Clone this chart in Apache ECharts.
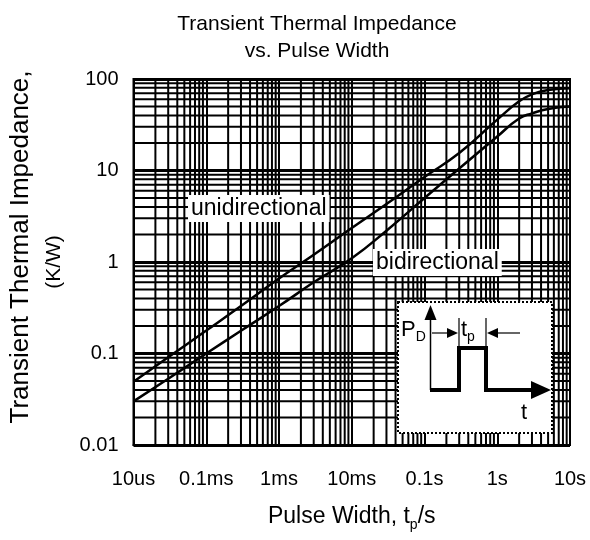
<!DOCTYPE html>
<html>
<head>
<meta charset="utf-8">
<script src="https://cdn.jsdelivr.net/npm/echarts@6/dist/echarts.min.js"></script>
<style>
  html, body { margin: 0; padding: 0; background: #fff; }
  #chart { width: 590px; height: 540px; }
</style>
</head>
<body>
<div id="chart"></div>
<script>
// pulse width in seconds, impedance in K/W
var pulseWidth = [1e-5, 3e-5, 1e-4, 3e-4, 1e-3, 3e-3, 1e-2, 3e-2, 0.1, 0.3, 1, 2, 3, 5, 10];
var zthUni = [0.049, 0.091, 0.178, 0.33, 0.66, 1.2, 2.35, 4.3, 8.5, 15.5, 36, 57, 68, 76, 79];
var zthBi = [0.030, 0.053, 0.10, 0.177, 0.33, 0.60, 1.1, 2.2, 5.0, 10.5, 23.5, 37, 42, 47, 50];

var xTickValues = [1e-5, 1e-4, 1e-3, 1e-2, 0.1, 1, 10];
var xTickLabels = ['10us', '0.1ms', '1ms', '10ms', '0.1s', '1s', '10s'];
var yTickValues = [0.01, 0.1, 1, 10, 100];
var yTickLabels = ['0.01', '0.1', '1', '10', '100'];
var minorSteps = [2, 3, 4, 5, 6, 7, 8, 9];

var FONT = '"Liberation Sans", Arial, sans-serif';

function pairs(xs, ys) {
  return xs.map(function(x, i) { return [x, ys[i]]; });
}

// 每个十进制区间内的细网格线
function minorLines(decades) {
  var out = [];
  decades.slice(0, -1).forEach(function(d) {
    minorSteps.forEach(function(s) { out.push(d * s); });
  });
  return out;
}

function tickLabel(values, labels) {
  return function(v) {
    var lv = Math.log10(v);
    for (var i = 0; i < values.length; i++) {
      if (Math.abs(Math.log10(values[i]) - lv) < 0.01) return labels[i];
    }
    return '';
  };
}

// 竖线: [x, 最小y]；横线: [最小x, y]
var vGrid = minorLines(xTickValues).map(function(v) { return [v, yTickValues[0]]; });
var hGrid = minorLines(yTickValues).map(function(v) { return [xTickValues[0], v]; });

function gridRender(vertical) {
  return function(params, api) {
    var p = api.coord([api.value(0), api.value(1)]);
    var cs = params.coordSys;
    var shape = vertical
      ? { x1: p[0], y1: cs.y, x2: p[0], y2: cs.y + cs.height }
      : { x1: cs.x, y1: p[1], x2: cs.x + cs.width, y2: p[1] };
    return { type: 'line', shape: shape, style: { stroke: '#000', lineWidth: 2 } };
  };
}

var chart = echarts.init(document.getElementById('chart'), null, { renderer: 'canvas' });

chart.setOption({
  animation: false,
  backgroundColor: '#fff',
  textStyle: { fontFamily: FONT, color: '#000' },
  title: {
    text: 'Transient Thermal Impedance\nvs. Pulse Width',
    left: 312,
    top: 6,
    textAlign: 'center',
    textStyle: { fontFamily: FONT, fontSize: 21, fontWeight: 'normal', lineHeight: 27, color: '#000' }
  },
  grid: {
    left: 128, right: 20, top: 79, bottom: 95,
    show: true, borderColor: '#000', borderWidth: 2, backgroundColor: '#fff'
  },
  xAxis: {
    type: 'log',
    logBase: 10,
    min: 1e-5,
    max: 10,
    splitNumber: 6,
    name: 'Pulse Width, t{sub|p}/s',
    nameLocation: 'middle',
    nameGap: 57,
    nameTextStyle: {
      fontFamily: FONT, fontSize: 23, color: '#000',
      rich: { sub: { fontFamily: FONT, fontSize: 14, color: '#000', verticalAlign: 'bottom', lineHeight: 30 } }
    },
    axisLine: { show: true, lineStyle: { color: '#000', width: 2 } },
    axisTick: { show: false },
    axisLabel: { fontFamily: FONT, fontSize: 20, color: '#000', margin: 24, formatter: tickLabel(xTickValues, xTickLabels) },
    splitLine: { show: true, lineStyle: { color: '#000', width: 2 } }
  },
  yAxis: {
    type: 'log',
    logBase: 10,
    min: 0.01,
    max: 100,
    splitNumber: 4,
    name: '{a|Transient Thermal Impedance,}\n{b|(K/W)}',
    nameLocation: 'middle',
    nameRotate: 90,
    nameGap: 63,
    nameTextStyle: {
      fontFamily: FONT, color: '#000',
      rich: {
        a: { fontFamily: FONT, fontSize: 26, lineHeight: 33, color: '#000', padding: [0, 0, 0, 30] },
        b: { fontFamily: FONT, fontSize: 21, lineHeight: 33, color: '#000' }
      }
    },
    axisLine: { show: true, lineStyle: { color: '#000', width: 2 } },
    axisTick: { show: false },
    axisLabel: { fontFamily: FONT, fontSize: 20, color: '#000', margin: 15, formatter: tickLabel(yTickValues, yTickLabels) },
    splitLine: { show: true, lineStyle: { color: '#000', width: 3 } }
  },
  series: [
    {
      name: 'grid-x',
      type: 'custom',
      silent: true,
      z: 1,
      renderItem: gridRender(true),
      data: vGrid
    },
    {
      name: 'grid-y',
      type: 'custom',
      silent: true,
      z: 1,
      renderItem: gridRender(false),
      data: hGrid
    },
    {
      name: 'unidirectional',
      type: 'line',
      z: 5,
      smooth: 0.5,
      showSymbol: false,
      lineStyle: { color: '#000', width: 2.5 },
      data: pairs(pulseWidth, zthUni)
    },
    {
      name: 'bidirectional',
      type: 'line',
      z: 5,
      smooth: 0.5,
      showSymbol: false,
      lineStyle: { color: '#000', width: 2.5 },
      data: pairs(pulseWidth, zthBi)
    }
  ],
  graphic: [
    // 曲线标签
    {
      type: 'text', z: 100, left: 188, top: 195,
      style: { text: 'unidirectional', font: '23px ' + FONT, fill: '#000', backgroundColor: '#fff', padding: [2, 3, 2, 3] }
    },
    {
      type: 'text', z: 100, left: 373, top: 249,
      style: { text: 'bidirectional', font: '23px ' + FONT, fill: '#000', backgroundColor: '#fff', padding: [2, 3, 2, 3] }
    },
    // 脉冲示意图
    {
      type: 'rect', z: 100,
      shape: { x: 398, y: 302, width: 154, height: 131 },
      style: { fill: '#fff', stroke: '#000', lineWidth: 2, lineDash: [2, 2] }
    },
    { type: 'line', z: 101, shape: { x1: 430.5, y1: 390, x2: 430.5, y2: 314 }, style: { stroke: '#000', lineWidth: 1.5 } },
    { type: 'polygon', z: 101, shape: { points: [[430.5, 305], [424.5, 320], [436.5, 320]] }, style: { fill: '#000' } },
    {
      type: 'polyline', z: 101,
      shape: { points: [[430, 390], [459, 390], [459, 348], [486, 348], [486, 390], [536, 390]] },
      style: { stroke: '#000', lineWidth: 4, fill: null }
    },
    { type: 'polygon', z: 101, shape: { points: [[551, 390], [531, 381], [531, 399]] }, style: { fill: '#000' } },
    { type: 'line', z: 101, shape: { x1: 459, y1: 318, x2: 459, y2: 348 }, style: { stroke: '#000', lineWidth: 1.2 } },
    { type: 'line', z: 101, shape: { x1: 486, y1: 318, x2: 486, y2: 348 }, style: { stroke: '#000', lineWidth: 1.2 } },
    { type: 'line', z: 101, shape: { x1: 432, y1: 333, x2: 450, y2: 333 }, style: { stroke: '#000', lineWidth: 1.2 } },
    { type: 'polygon', z: 101, shape: { points: [[458, 333], [447, 328], [447, 338]] }, style: { fill: '#000' } },
    { type: 'line', z: 101, shape: { x1: 520, y1: 333, x2: 494, y2: 333 }, style: { stroke: '#000', lineWidth: 1.2 } },
    { type: 'polygon', z: 101, shape: { points: [[487, 333], [498, 328], [498, 338]] }, style: { fill: '#000' } },
    {
      type: 'text', z: 101, left: 401, top: 319,
      style: {
        text: 'P{s|D}', font: '22px ' + FONT, fill: '#000',
        rich: { s: { font: '14px ' + FONT, fill: '#000', verticalAlign: 'bottom', lineHeight: 28 } }
      }
    },
    {
      type: 'text', z: 101, left: 461, top: 319,
      style: {
        text: 't{s|p}', font: '22px ' + FONT, fill: '#000',
        rich: { s: { font: '14px ' + FONT, fill: '#000', verticalAlign: 'bottom', lineHeight: 28 } }
      }
    },
    { type: 'text', z: 101, left: 521, top: 402, style: { text: 't', font: '22px ' + FONT, fill: '#000' } }
  ]
});

window.addEventListener('resize', function() { chart.resize(); });
</script>
</body>
</html>
